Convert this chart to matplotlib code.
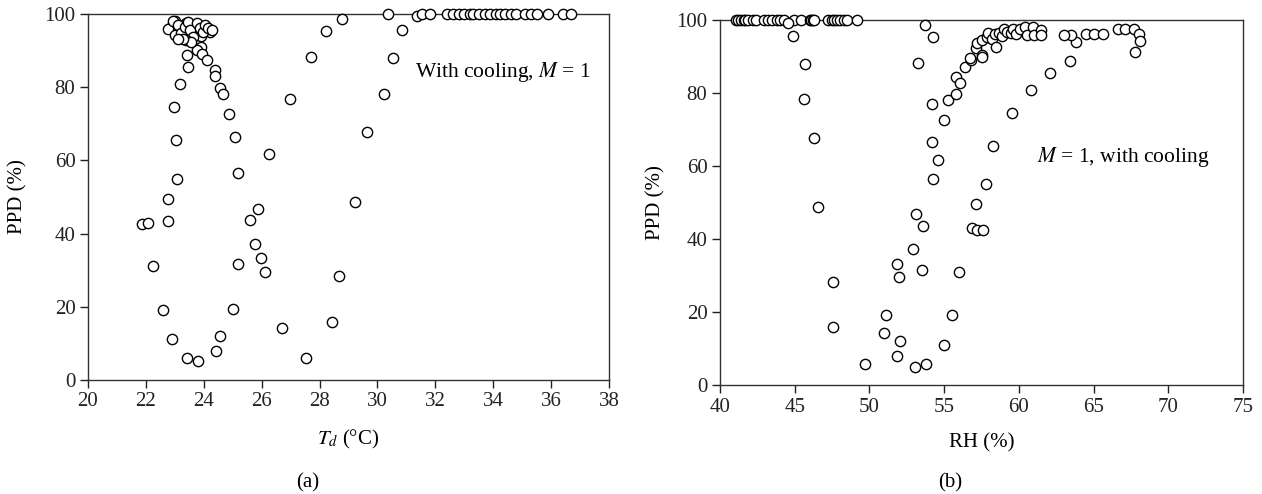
import matplotlib
matplotlib.use("Agg")
import matplotlib.pyplot as plt

plt.rcParams['font.family'] = ['Liberation Serif', 'DejaVu Serif']
plt.rcParams['mathtext.fontset'] = 'stix'

# (a) Td vs PPD
td = [21.87, 22.08, 22.24, 22.60, 22.91, 23.43, 23.80, 24.42, 24.57, 25.02,
      25.17, 25.77, 25.99, 26.11, 26.72, 27.52, 28.44, 28.66, 22.75, 22.78,
      23.06, 23.05, 22.97, 23.17, 23.44, 23.41, 22.83, 23.02, 23.37, 23.75,
      23.80, 24.09, 24.23, 23.92, 23.91, 23.75, 23.94, 24.11, 24.39, 24.39,
      24.56, 24.67, 24.87, 25.07, 25.17, 26.25, 25.89, 25.61, 26.97, 27.69,
      28.23, 28.76, 29.24, 29.64, 30.21, 30.55, 30.84, 30.38, 31.37,
      22.77, 22.94, 23.11, 23.00, 23.23, 23.34, 23.46, 23.52, 23.63, 23.75,
      23.86, 23.98, 24.03, 24.15, 24.27, 23.40, 23.57, 23.29, 23.11,
      31.55, 31.80, 32.40, 32.60, 32.80, 33.00, 33.20, 33.30, 33.50, 33.70,
      33.90, 34.10, 34.25, 34.40, 34.60, 34.80, 35.10, 35.30, 35.50, 35.90,
      36.40, 36.70]
ppd_a = [42.6, 42.8, 31.1, 19.2, 11.2, 5.9, 5.1, 8.0, 12.1, 19.3,
         31.7, 37.2, 33.2, 29.6, 14.2, 6.0, 15.9, 28.3, 43.4, 49.5,
         55.0, 65.5, 74.5, 80.9, 85.5, 88.8, 96.2, 98.2, 97.4, 97.3,
         96.3, 96.1, 95.2, 94.1, 91.1, 90.2, 89.1, 87.3, 84.7, 83.0,
         79.9, 78.1, 72.7, 66.5, 56.6, 61.7, 46.8, 43.7, 76.9, 88.3,
         95.4, 98.6, 48.7, 67.7, 78.1, 87.9, 95.6, 100, 99.5,
         95.9, 98.1, 97.0, 94.3, 94.7, 96.5, 97.9, 95.6, 93.8, 97.4,
         96.1, 95.2, 97.0, 96.1, 95.6, 92.9, 92.4, 93.3, 93.3,
         100, 100, 100, 100, 100, 100, 100, 100, 100, 100,
         100, 100, 100, 100, 100, 100, 100, 100, 100, 100,
         100, 100]

# (b) RH vs PPD
rh = [41.05, 41.2, 41.4, 41.6, 41.67, 41.9, 42.2, 42.4, 42.95, 43.2,
      43.5, 43.8, 44.0, 44.3, 44.95, 45.4, 46.0, 46.1, 46.2, 46.3,
      47.2, 47.5, 47.6, 47.8, 48.0, 48.3, 48.5, 49.2,
      44.57, 44.86, 45.67, 45.64, 46.27, 46.58, 47.54, 47.54, 49.70, 51.08,
      50.95, 52.04, 51.82, 53.06, 53.78, 51.86, 51.99, 53.51, 52.93, 54.96,
      55.50, 55.99, 53.11, 53.56, 54.25, 54.60, 54.20, 53.22, 53.69, 54.27,
      54.16, 55.00, 55.23, 55.77, 55.77, 56.05, 56.39, 56.77, 56.84, 57.17,
      57.60, 57.12, 57.80, 58.30, 59.55, 60.80, 62.10, 63.40, 63.80, 63.50,
      63.00, 64.50, 65.00, 65.60, 66.60, 67.10, 67.70, 68.05, 68.10, 67.80,
      57.10, 57.20, 57.50, 57.50, 57.84, 57.95, 58.17, 58.40, 58.46, 58.68,
      58.84, 59.00, 59.18, 59.45, 59.58, 59.80, 60.07, 60.40, 60.56, 60.96,
      61.00, 61.50, 61.45, 56.70, 57.50]
ppd_b = [100, 100, 100, 100, 100, 100, 100, 100, 100, 100,
         100, 100, 100, 100, 100, 100, 100, 100, 100, 100,
         100, 100, 100, 100, 100, 100, 100, 100,
         99.3, 95.6, 87.9, 78.3, 67.6, 48.7, 28.2, 15.8, 5.8, 19.3,
         14.2, 12.1, 7.9, 5.0, 5.8, 33.2, 29.7, 31.6, 37.4, 11.1,
         19.3, 31.0, 46.8, 43.6, 56.4, 61.6, 66.5, 88.3, 98.6, 95.3,
         76.9, 72.6, 78.1, 79.7, 84.5, 82.8, 87.2, 89.0, 43.0, 42.5,
         42.5, 49.6, 55.1, 65.5, 74.4, 80.9, 85.6, 88.8, 94.0, 95.9,
         95.9, 96.3, 96.3, 96.3, 97.4, 97.4, 97.4, 96.3, 94.3, 91.2,
         92.2, 93.6, 94.5, 90.4, 95.4, 96.5, 94.7, 96.3, 92.7, 96.5,
         95.6, 97.4, 96.8, 96.4, 97.4, 96.3, 97.4, 98.0, 95.9, 98.2,
         95.9, 97.3, 95.9, 89.5, 89.9]

fig = plt.figure(figsize=(12.62, 4.94), dpi=100)
ax1 = fig.add_axes([0.0697, 0.2308, 0.4129, 0.7409])
ax2 = fig.add_axes([0.5705, 0.2206, 0.4145, 0.7389])

for ax in (ax1, ax2):
    for s in ax.spines.values():
        s.set_linewidth(1.0)
        s.set_color('#333333')
    ax.tick_params(direction='out', length=6, width=1, labelsize=15,
                   top=False, right=False, colors='#222222', pad=3)
    ax.set_ylim(0, 100)
    ax.set_yticks([0, 20, 40, 60, 80, 100])

ax1.set_ylabel('PPD (%)', fontsize=15, labelpad=12)
ax2.set_ylabel('PPD (%)', fontsize=15, labelpad=8)

ax1.plot(td, ppd_a, 'o', mfc='white', mec='black', ms=7.4, mew=1.0, clip_on=False, zorder=3)
ax1.set_xlim(20, 38)
ax1.set_xticks(range(20, 39, 2))
ax1.set_xlabel('$T_d$ (°C)', fontsize=15, labelpad=12)
ax1.text(31.3, 84.2, 'With cooling, $M$ = 1', fontsize=15.5, va='center')

ax2.plot(rh, ppd_b, 'o', mfc='white', mec='black', ms=7.4, mew=1.0, clip_on=False, zorder=3)
ax2.set_xlim(40, 75)
ax2.set_xticks(range(40, 76, 5))
ax2.set_xlabel('RH (%)', fontsize=15, labelpad=12)
ax2.text(61.2, 62.5, '$M$ = 1, with cooling', fontsize=15.5, va='center')

fig.text(308 / 1262, 1 - 483 / 494, '(a)', fontsize=15, ha='center', va='center')
fig.text(950 / 1262, 1 - 483 / 494, '(b)', fontsize=15, ha='center', va='center')

fig.savefig('out.png', dpi=100)
